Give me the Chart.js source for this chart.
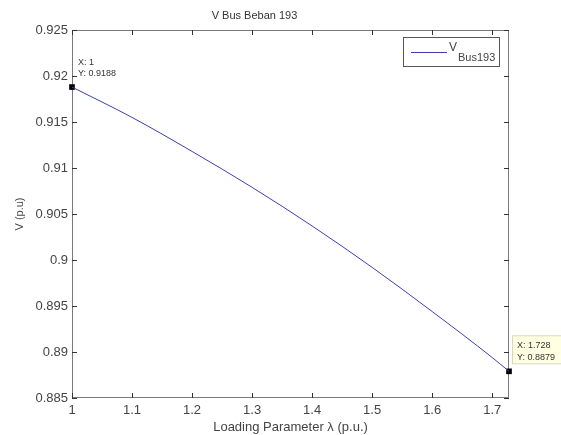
<!DOCTYPE html>
<html>
<head>
<meta charset="utf-8">
<script src="https://cdn.jsdelivr.net/npm/chart.js@4/dist/chart.umd.min.js"></script>
<style>
  html, body { margin: 0; padding: 0; background: #fff; }
  #wrap { width: 561px; height: 435px; }
</style>
</head>
<body>
<div id="wrap"><canvas id="canvas" width="561" height="435"></canvas></div>
<script>
// values
const lambda = [1.0, 1.1, 1.2, 1.3, 1.4, 1.5, 1.6, 1.7, 1.728];
const vBus193 = [0.9188, 0.9155, 0.9118, 0.9079, 0.9037, 0.8992, 0.8944, 0.8894, 0.8879];
const xTicks = [1, 1.1, 1.2, 1.3, 1.4, 1.5, 1.6, 1.7];
const yTicks = [0.885, 0.89, 0.895, 0.9, 0.905, 0.91, 0.915, 0.92, 0.925];
// data tips shown at the two ends
const tipX = [1, 1.728];
const tipY = [0.9188, 0.8879];

const axisColor = "#7a7a7a";
const textColor = "#444";
const lineColor = "#3e3eb0";
const fontFamily = "'Liberation Sans', Arial, sans-serif";

// MATLAB style: box round the axes, ticks pointing inwards, legend and data tips
const matlabBits = {
  id: "matlabBits",
  beforeDatasetsDraw(chart) {
    const ctx = chart.ctx;
    const xs = chart.scales.x, ys = chart.scales.y;
    const a = chart.chartArea;
    ctx.save();
    ctx.strokeStyle = axisColor;
    ctx.lineWidth = 1;
    ctx.strokeRect(a.left + 0.5, a.top + 0.5, a.right - a.left - 1, a.bottom - a.top - 1);
    ctx.strokeStyle = "#333";
    ctx.beginPath();
    const len = 5;
    xTicks.forEach(v => {
      const px = Math.round(xs.getPixelForValue(v)) + 0.5;
      ctx.moveTo(px, a.bottom); ctx.lineTo(px, a.bottom - len);
      ctx.moveTo(px, a.top); ctx.lineTo(px, a.top + len);
    });
    yTicks.forEach(v => {
      const py = Math.round(ys.getPixelForValue(v)) + 0.5;
      ctx.moveTo(a.left, py); ctx.lineTo(a.left + len, py);
      ctx.moveTo(a.right, py); ctx.lineTo(a.right - len, py);
    });
    ctx.stroke();
    ctx.restore();
  },
  afterDraw(chart) {
    const ctx = chart.ctx;
    const xs = chart.scales.x, ys = chart.scales.y;
    ctx.save();
    // legend
    const lx = 403, ly = 37, lw = 96, lh = 29;
    ctx.fillStyle = "#fff";
    ctx.fillRect(lx, ly, lw, lh);
    ctx.strokeStyle = "#555";
    ctx.lineWidth = 1;
    ctx.strokeRect(lx + 0.5, ly + 0.5, lw, lh);
    ctx.strokeStyle = lineColor;
    ctx.beginPath();
    ctx.moveTo(411, 52.5); ctx.lineTo(447, 52.5);
    ctx.stroke();
    ctx.fillStyle = textColor;
    ctx.textBaseline = "alphabetic";
    ctx.textAlign = "left";
    ctx.font = "12px " + fontFamily;
    ctx.fillText("V", 449, 51);
    ctx.font = "11px " + fontFamily;
    ctx.fillText("Bus193", 458, 61);

    // data tips
    const p0x = xs.getPixelForValue(tipX[0]), p0y = ys.getPixelForValue(tipY[0]);
    ctx.font = "9px " + fontFamily;
    ctx.fillStyle = "#333";
    ctx.textBaseline = "middle";
    ctx.fillText("X: " + tipX[0], p0x + 6, p0y - 25);
    ctx.fillText("Y: " + tipY[0], p0x + 6, p0y - 14);

    const p1x = xs.getPixelForValue(tipX[1]), p1y = ys.getPixelForValue(tipY[1]);
    ctx.fillStyle = "#ffffe1";
    ctx.fillRect(p1x + 3, p1y - 36, 50, 28);
    ctx.strokeStyle = "#d8d8c0";
    ctx.strokeRect(p1x + 3.5, p1y - 35.5, 50, 28);
    ctx.fillStyle = "#333";
    ctx.fillText("X: " + tipX[1], p1x + 8, p1y - 26);
    ctx.fillText("Y: " + tipY[1], p1x + 8, p1y - 14);
    ctx.restore();
  }
};

const ctx = document.getElementById("canvas").getContext("2d");
const chart = new Chart(ctx, {
  type: "line",
  data: {
    datasets: [
      {
        label: "V Bus193",
        data: lambda.map((x, i) => ({ x: x, y: vBus193[i] })),
        borderColor: lineColor,
        borderWidth: 1,
        pointRadius: 0,
        cubicInterpolationMode: "monotone",
        fill: false
      },
      {
        label: "tips",
        data: tipX.map((x, i) => ({ x: x, y: tipY[i] })),
        showLine: false,
        pointStyle: "rect",
        pointRadius: 4,
        borderWidth: 0,
        backgroundColor: "#000",
        borderColor: "#000",
        clip: false
      }
    ]
  },
  options: {
    responsive: false,
    animation: false,
    events: [],
    layout: { padding: { top: 0, right: 52, left: 0, bottom: 0 } },
    plugins: {
      legend: { display: false },
      tooltip: { enabled: false },
      title: {
        display: true,
        text: "V Bus Beban 193",
        color: "#333",
        font: { family: fontFamily, size: 11, weight: "normal" },
        padding: { top: 9.4, bottom: 7.4 }
      }
    },
    scales: {
      x: {
        type: "linear",
        min: 1,
        max: 1.728,
        afterFit: s => { s.height = 37; },
        afterBuildTicks: s => { s.ticks = xTicks.map(v => ({ value: v })); },
        grid: { display: false, drawTicks: false },
        border: { display: false },
        ticks: {
          padding: 5,
          color: textColor,
          font: { family: fontFamily, size: 13 },
          maxRotation: 0,
          callback: v => String(+v.toFixed(2))
        },
        title: {
          display: true,
          text: "Loading Parameter λ (p.u.)",
          color: textColor,
          font: { family: fontFamily, size: 13 },
          padding: { top: 0, bottom: 0 }
        }
      },
      y: {
        min: 0.885,
        max: 0.925,
        afterFit: s => { s.width = 72; },
        afterBuildTicks: s => { s.ticks = yTicks.map(v => ({ value: v })); },
        grid: { display: false, drawTicks: false },
        border: { display: false },
        ticks: {
          padding: 4,
          color: textColor,
          font: { family: fontFamily, size: 13 },
          callback: v => String(+v.toFixed(3))
        },
        title: {
          display: true,
          text: "V (p.u)",
          color: textColor,
          font: { family: fontFamily, size: 11 },
          padding: { top: 13, bottom: 0 }
        }
      }
    }
  },
  plugins: [matlabBits]
});
</script>
</body>
</html>
